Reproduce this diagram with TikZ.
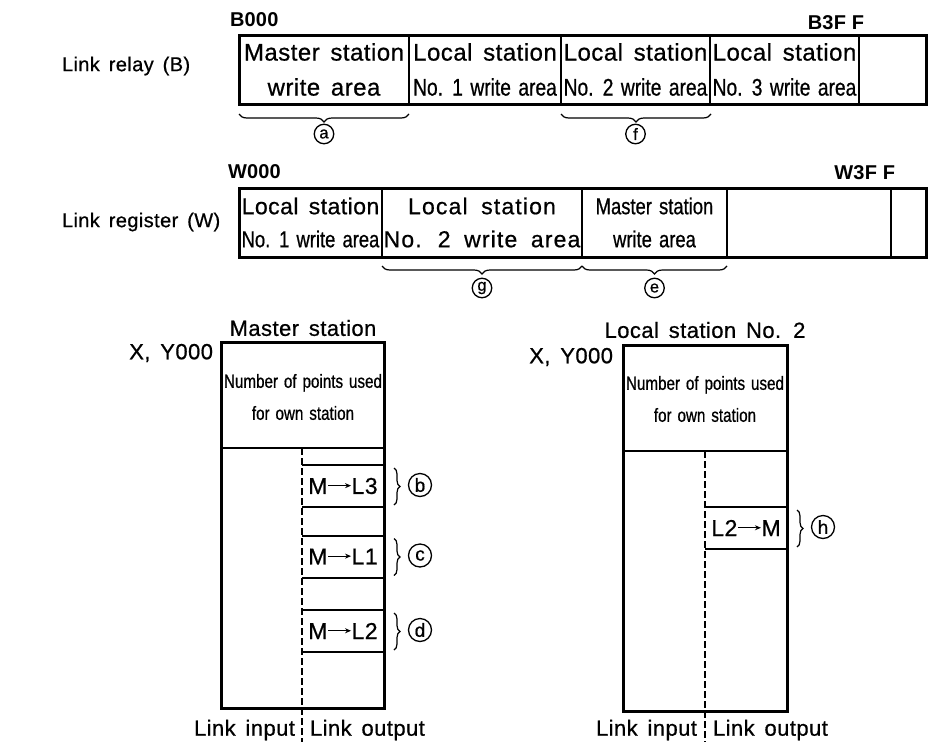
\documentclass[tikz,border=0pt]{standalone}
\usepackage{fontspec}
\setmainfont{Liberation Sans}[LetterSpace=2.0,WordSpace=1.5,FakeBold=0.7]
\newfontfamily\cond{Liberation Sans}[FakeStretch=0.8,WordSpace=1.4,FakeBold=0.7]
\newfontfamily\wide{Liberation Sans}[LetterSpace=5.0,WordSpace=1.8,FakeBold=0.7]
\newfontfamily\heavy{Liberation Sans Bold}[LetterSpace=1.0]
\usetikzlibrary{decorations.pathreplacing,arrows.meta}
\newcommand\fs[2]{\fontsize{#1}{#2}\selectfont}
\newcommand\arr{\tikz[baseline=0pt]\draw[line width=1.1pt,-{Stealth[length=6pt,width=5pt]}](0,0.36em)--(1.0em,0.36em);}
\begin{document}
\begin{tikzpicture}[x=1pt,y=1pt,
  cell/.style={draw,line width=1.8pt,inner sep=0pt,outer sep=0pt,align=center},
  lbl/.style={inner sep=0pt,outer sep=0pt},
  thickline/.style={line width=3pt},
  midline/.style={line width=2.4pt},
  thinline/.style={line width=2pt},
  dashline/.style={line width=2.2pt,dash pattern=on 7pt off 3pt},
  circ/.style={circle,draw,line width=1.3pt,minimum size=19.5pt,inner sep=0pt,font=\fs{16.5}{16}},
  bigcirc/.style={circ,minimum size=23pt,font=\fs{19}{19}},
  brcm/.style={decorate,decoration={brace,amplitude=8pt,mirror},line width=1.2pt},
  rbrc/.style={decorate,decoration={brace,amplitude=6pt},line width=1.2pt}]
\useasboundingbox (0,0) rectangle (928,-742);

% ---------- Link relay row ----------
\node[lbl,anchor=west,font=\fs{20}{24}] (lr) at (62,-66) {Link relay (B)};
\node[lbl,anchor=west,font=\heavy\fs{20}{22}] (b0) at (230,-20) {B000};
\node[lbl,anchor=east,font=\heavy\fs{20}{22}] (b3) at (864,-23) {B3F F};
\tikzset{rrow/.style={cell,minimum height=69pt,font=\fs{24}{35}}}
\node[rrow,minimum width=170pt] (r1) at (324,-69.5) {Master station\\write area};
\node[rrow,minimum width=152pt] (r2) at (485,-69.5) {Local station\\{\cond No. 1 write area}};
\node[rrow,minimum width=149pt] (r3) at (635.5,-69.5) {Local station\\{\cond No. 2 write area}};
\node[rrow,minimum width=149pt] (r4) at (784.5,-69.5) {Local station\\{\cond No. 3 write area}};
\node[rrow,minimum width=67pt] (r5) at (892.5,-69.5) {};
\draw[thickline] (r1.north west) rectangle (r5.south east);

\coordinate (ba1) at ([yshift=-10pt]r1.south west);
\coordinate (ba2) at ([yshift=-10pt]r1.south east);
\draw[brcm] (ba1) -- (ba2);
\node[circ] (ca) at ([yshift=-30pt]r1.south) {a};
\coordinate (bf1) at ([yshift=-10pt]r3.south west);
\coordinate (bf2) at ([yshift=-10pt,xshift=1pt]r3.south east);
\draw[brcm] (bf1) -- (bf2);
\node[circ] (cf) at ([yshift=-30pt]r3.south) {f};

% ---------- Link register row ----------
\node[lbl,anchor=west,font=\fs{20}{24}] (lw) at (62,-222) {Link register (W)};
\node[lbl,anchor=west,font=\heavy\fs{20}{22}] (w0) at (228,-172) {W000};
\node[lbl,anchor=east,font=\heavy\fs{20}{22}] (w3) at (895,-173) {W3F F};
\tikzset{wrow/.style={cell,minimum height=69pt,font=\fs{23}{33}}}
\node[wrow,minimum width=143pt] (w1) at (310.5,-222.5) {Local station\\{\cond No. 1 write area}};
\node[wrow,minimum width=200pt,font=\wide\fs{23}{33}] (w2) at (482,-222.5) {Local station\\No. 2 write area};
\node[wrow,minimum width=145pt,font=\cond\fs{23}{33}] (w3c) at (654.5,-222.5) {Master station\\write area};
\node[wrow,minimum width=164pt] (w4) at (809,-222.5) {};
\node[wrow,minimum width=35pt] (w5) at (908.5,-222.5) {};
\draw[thickline] (w1.north west) rectangle (w5.south east);

\coordinate (bg1) at ([yshift=-9pt]w2.south west);
\coordinate (bg2) at ([yshift=-9pt]w2.south east);
\draw[brcm] (bg1) -- (bg2);
\node[circ] (cg) at ([yshift=-31pt]w2.south) {g};
\coordinate (be1) at ([yshift=-9pt]w3c.south west);
\coordinate (be2) at ([yshift=-9pt]w3c.south east);
\draw[brcm] (be1) -- (be2);
\node[circ] (ce) at ([yshift=-31pt]w3c.south) {e};

% ---------- Master station ----------
\node[draw,thickline,minimum width=163pt,minimum height=366pt,inner sep=0pt,outer sep=0pt] (mbox) at (302.5,-525) {};
\node[lbl,font=\fs{22}{26}] (mhead) at (303,-328) {Master station};
\node[lbl,anchor=east,font=\fs{22}{26}] (mxy) at (213,-353) {X, Y000};
\node[lbl,align=center,font=\cond\fs{19}{32}] (mnum) at (303,-397) {Number of points used\\for own station};
\coordinate (mdl) at (221,-448);
\coordinate (mdr) at (384,-448);
\draw[midline] (mdl) -- (mdr);
\coordinate (mdt) at (302,-448);
\coordinate (mdb) at (302,-742);
\draw[dashline] (mdt) -- (mdb);
\tikzset{sbox/.style={lbl,minimum width=82pt,minimum height=42pt,font=\fs{23}{26}}}
\node[sbox] (m1) at (343,-486) {M\arr L3};
\node[sbox] (m2) at (343,-556.5) {M\arr L1};
\node[sbox] (m3) at (343,-631) {M\arr L2};
\foreach \n/\c in {m1/b,m2/c,m3/d}{
  \draw[thinline] (\n.north west) -- (\n.north east);
  \draw[thinline] (\n.south west) -- (\n.south east);
  \draw[rbrc] ([xshift=10pt,yshift=-3pt]\n.north east) -- ([xshift=10pt,yshift=2pt]\n.south east);
  \node[bigcirc] (c\c) at ([xshift=36pt,yshift=1pt]\n.east) {\c};
}
\node[lbl,anchor=east,font=\fs{22}{26}] (min) at (295,-730) {Link input};
\node[lbl,anchor=west,font=\fs{22}{26}] (mout) at (310,-730) {Link output};

% ---------- Local station No. 2 ----------
\node[draw,thickline,minimum width=164pt,minimum height=366pt,inner sep=0pt,outer sep=0pt] (lbox) at (705,-528) {};
\node[lbl,font=\fs{22}{26}] (lhead) at (705,-330) {Local station No. 2};
\node[lbl,anchor=east,font=\fs{22}{26}] (lxy) at (613,-357) {X, Y000};
\node[lbl,align=center,font=\cond\fs{19}{32}] (lnum) at (705,-399) {Number of points used\\for own station};
\coordinate (ldl) at (623,-451);
\coordinate (ldr) at (787,-451);
\draw[midline] (ldl) -- (ldr);
\coordinate (ldt) at (705,-451);
\coordinate (ldb) at (705,-742);
\draw[dashline] (ldt) -- (ldb);
\node[sbox] (l1) at (746,-528) {L2\arr M};
\draw[thinline] (l1.north west) -- (l1.north east);
\draw[thinline] (l1.south west) -- (l1.south east);
\draw[rbrc] ([xshift=10pt,yshift=-3pt]l1.north east) -- ([xshift=10pt,yshift=2pt]l1.south east);
\node[bigcirc] (ch) at ([xshift=36pt,yshift=1pt]l1.east) {h};
\node[lbl,anchor=east,font=\fs{22}{26}] (lin) at (697,-730) {Link input};
\node[lbl,anchor=west,font=\fs{22}{26}] (lout) at (713,-730) {Link output};
\end{tikzpicture}
\end{document}
